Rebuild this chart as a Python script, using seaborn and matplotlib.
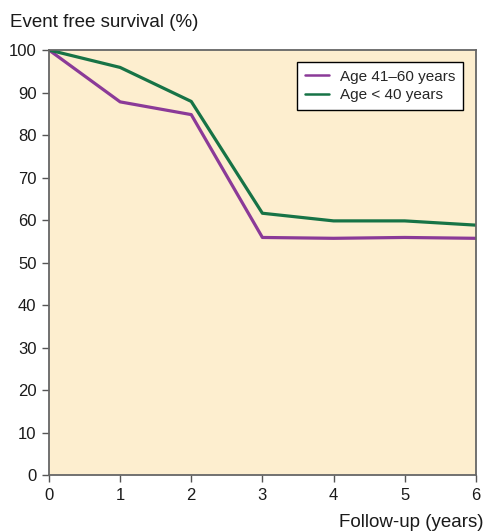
import pandas as pd
import numpy as np
import matplotlib
matplotlib.use('Agg')
import matplotlib.pyplot as plt
import seaborn as sns

years = [0, 1, 2, 3, 4, 5, 6]
age_41_60 = [100, 87.8, 84.8, 55.9, 55.7, 55.9, 55.7]
age_under_40 = [100, 95.9, 87.9, 61.6, 59.8, 59.8, 58.8]
groups = ['Age 41\u201360 years', 'Age < 40 years']
colors = ['#8B3A98', '#177346']

df = pd.DataFrame({
    'year': years * 2,
    'efs': age_41_60 + age_under_40,
    'group': [groups[0]] * len(years) + [groups[1]] * len(years),
})

sns.set_style('ticks')
plt.rcParams['font.family'] = ['Liberation Sans', 'DejaVu Sans']

fig = plt.figure(figsize=(4.85, 5.32), dpi=100)
ax = fig.add_axes([0.101, 0.107, 0.880, 0.799])
ax.set_facecolor('#FDEECF')

sns.lineplot(data=df, x='year', y='efs', hue='group', palette=colors,
             linewidth=2.3, ax=ax, legend=True)

ax.set_xlim(0, 6)
ax.set_ylim(0, 100)
ax.set_xticks(range(0, 7))
ax.set_yticks(range(0, 101, 10))
ax.tick_params(axis='both', labelsize=12, length=5, width=1, color='#555555',
               pad=4, labelcolor='#1a1a1a')
for s in ax.spines.values():
    s.set_color('#666666')
    s.set_linewidth(1.3)
ax.set_xlabel('')
ax.set_ylabel('')

fig.text(0.02, 0.958, 'Event free survival (%)', fontsize=13.5, va='center',
         ha='left', color='#1a1a1a')
fig.text(0.997, 0.017, 'Follow-up (years)', fontsize=13.5, va='center',
         ha='right', color='#1a1a1a')

leg = ax.legend(loc='upper right', bbox_to_anchor=(0.970, 0.972), borderaxespad=0,
                frameon=True, fancybox=False, edgecolor='black', fontsize=11,
                handlelength=1.6, handletextpad=0.7, borderpad=0.5, labelspacing=0.3)
leg.get_frame().set_linewidth(1.0)
leg.get_frame().set_facecolor('white')
leg.get_frame().set_alpha(1)
for line in leg.get_lines():
    line.set_linewidth(1.8)

fig.savefig('out.png', dpi=100)
